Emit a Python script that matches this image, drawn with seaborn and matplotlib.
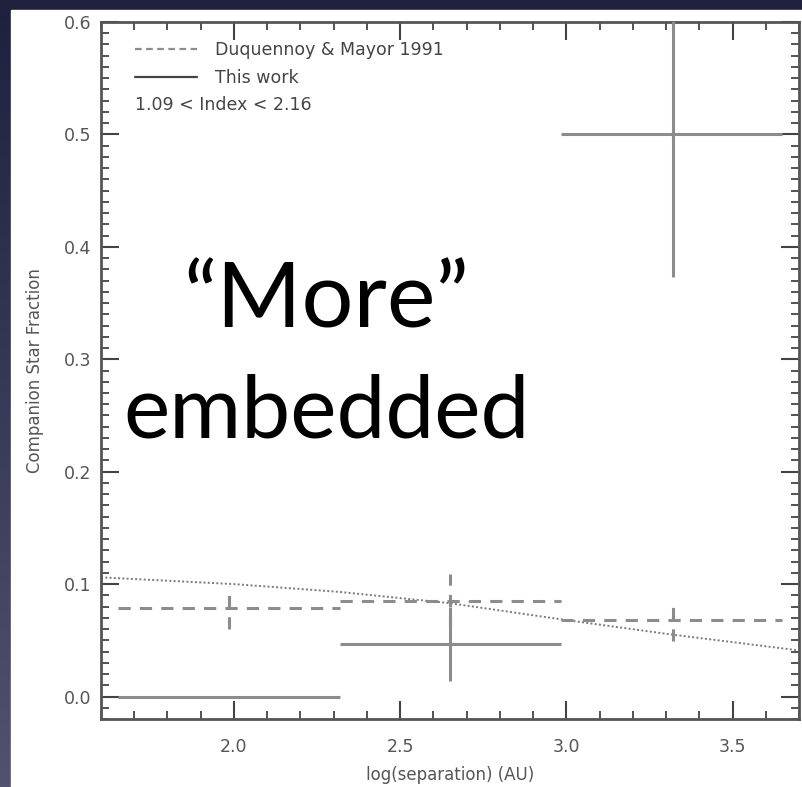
import numpy as np
import matplotlib
matplotlib.use("Agg")
import matplotlib.pyplot as plt
from matplotlib.patches import Rectangle
from matplotlib.lines import Line2D
from matplotlib.ticker import MultipleLocator
import seaborn as sns
import pandas as pd

# ---- data ----
bin_lo = [1.65, 2.32, 2.985]
bin_hi = [2.32, 2.985, 3.65]
bin_center = [1.985, 2.65, 3.32]

this_work_y = [0.0, 0.047, 0.5]
this_work_err = [0.0, 0.033, 0.127]

dm91_y = [0.079, 0.085, 0.068]
dm91_err = [0.019, 0.024, 0.019]

curve_x = [1.6, 2.0, 2.32, 2.65, 3.0, 3.32, 3.7]
curve_y = [0.106, 0.100, 0.093, 0.083, 0.068, 0.055, 0.041]

x_ticks = [2.0, 2.5, 3.0, 3.5]
y_ticks = [0.0, 0.1, 0.2, 0.3, 0.4, 0.5, 0.6]

sns.set_style("ticks")
plt.rcParams['font.family'] = ['DejaVu Sans']

W, H = 803, 787
fig = plt.figure(figsize=(W / 100, H / 100), dpi=100)

# slide background
bg = fig.add_axes([0, 0, 1, 1])
bg.set_xlim(0, 1)
bg.set_ylim(0, 1)
bg.axis('off')
grad = np.linspace(0, 1, 256)[:, None]
top = np.array([30, 32, 62]) / 255
bot = np.array([82, 82, 112]) / 255
img = top[None, None, :] * (1 - grad[:, :, None]) + bot[None, None, :] * grad[:, :, None]
bg.imshow(img, aspect='auto', extent=[0, 1, 0, 1], origin='upper')
bg.add_patch(Rectangle((11 / W, 0), 1 - 11 / W, 1 - 10 / H, color='white', zorder=2))

ax = fig.add_axes([101 / W, 1 - 719 / H, (799 - 101) / W, (719 - 22) / H])
ax.set_facecolor('none')

line_col = '#8c8c8c'
dash_col = '#8c8c8c'

# This work (solid)
ax.hlines(this_work_y, bin_lo, bin_hi, colors=line_col, linewidth=2.2, zorder=3)
for xc, yv, e in zip(bin_center[1:], this_work_y[1:], this_work_err[1:]):
    ax.vlines(xc, yv - e, yv + e, colors=line_col, linewidth=2.2, zorder=3)

# Duquennoy & Mayor (dashed)
ax.hlines(dm91_y, bin_lo, bin_hi, colors=dash_col, linewidth=2.2,
          linestyles=(0, (4, 3)), zorder=3)
ax.vlines(bin_center, np.array(dm91_y) - np.array(dm91_err),
          np.array(dm91_y) + np.array(dm91_err), colors=dash_col,
          linewidth=2.2, linestyles=(0, (4, 3)), zorder=3)

# dotted model curve
df = pd.DataFrame({'x': curve_x, 'y': curve_y})
sns.lineplot(data=df, x='x', y='y', ax=ax, color='#7a7a7a', linewidth=1.4,
             linestyle=(0, (1, 1.2)), zorder=2)

ax.set_xlim(1.6, 3.7)
ax.set_ylim(-0.02, 0.6)
ax.set_xticks(x_ticks)
ax.set_xticklabels([f"{v:.1f}" for v in x_ticks])
ax.set_yticks(y_ticks)
ax.set_yticklabels([f"{v:.1f}" for v in y_ticks])
ax.xaxis.set_minor_locator(MultipleLocator(0.1))
ax.yaxis.set_minor_locator(MultipleLocator(0.01))
ax.tick_params(which='both', direction='in', top=True, right=True,
               color='#444444', labelcolor='#555555', labelsize=12.5)
ax.tick_params(which='major', length=13, width=1.5, pad=7)
ax.tick_params(axis='x', which='major', pad=14)
ax.tick_params(which='minor', length=6, width=1.3)
for s in ax.spines.values():
    s.set_color('#555555')
    s.set_linewidth(2)

ax.set_xlabel('log(separation) (AU)', fontsize=12, color='#555555', labelpad=7)
ax.set_ylabel('Companion Star Fraction', fontsize=12, color='#555555', labelpad=14)

# legend
handles = [Line2D([], [], color=dash_col, linewidth=1.6, linestyle=(0, (3, 2))),
           Line2D([], [], color='#444444', linewidth=1.6)]
leg = ax.legend(handles, ['Duquennoy & Mayor 1991', 'This work'],
                loc='upper left', bbox_to_anchor=(0.0387, 0.982), frameon=False,
                fontsize=12.5, handlelength=3.6, handletextpad=1.0,
                labelspacing=0.55, borderaxespad=0)
for t in leg.get_texts():
    t.set_color('#444444')
ax.text(0.048, 0.881, '1.09 < Index < 2.16', transform=ax.transAxes,
        fontsize=12.5, color='#444444', va='center', ha='left')

# slide overlay text
fig.text(326 / W, 1 - 327 / H, '\u201cMore\u201d', ha='center', va='baseline',
         fontsize=66, family='Lato', color='black')
fig.text(327 / W, 1 - 437 / H, 'embedded', ha='center', va='baseline',
         fontsize=63, family='Lato', color='black')

fig.savefig('out.png', dpi=100)
